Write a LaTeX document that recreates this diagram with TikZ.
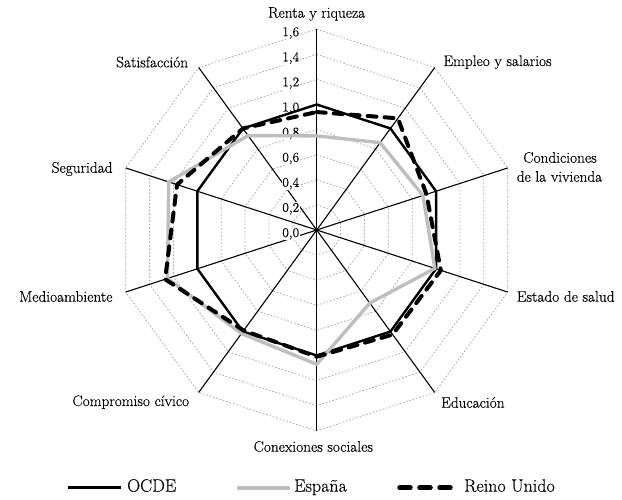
\documentclass[tikz,border=0pt]{standalone}
\usepackage{fontspec}
\setmainfont{Latin Modern Roman}[FakeBold=0.3]
\definecolor{gridgray}{RGB}{170,170,170}
\definecolor{esgray}{RGB}{190,190,190}
\begin{document}
\begin{tikzpicture}[x=1pt,y=1pt,
  lbl/.style={inner sep=0pt, font=\fontsize{15.3}{18}\selectfont},
  tick/.style={inner sep=0.6pt, fill=white, anchor=base east, font=\fontsize{13.5}{16}\selectfont},
  gridline/.style={draw=gridgray, line width=0.8pt, dash pattern=on 1.6pt off 1.9pt},
  axisline/.style={draw=black, line width=1.1pt},
  ocde/.style={draw=black, line width=2.4pt, line join=miter},
  espana/.style={draw=esgray, line width=3.4pt, line join=miter},
  reino/.style={draw=black, line width=4pt, dash pattern=on 9pt off 8pt, line cap=round, line join=round},
  legtext/.style={inner sep=0pt, anchor=base west, font=\fontsize{18}{20}\selectfont}]
\useasboundingbox (0,0) rectangle (622,499);
\begin{scope}[shift={(316.7,269)}, x=125.5pt, y=125.5pt]
  \coordinate (c) at (0,0);
  \foreach \r in {0.2,0.4,0.6,0.8,1.0,1.2,1.4,1.6}
    \draw[gridline] (90:\r) -- (54:\r) -- (18:\r) -- (-18:\r) -- (-54:\r) -- (-90:\r) -- (-126:\r) -- (-162:\r) -- (-198:\r) -- (-234:\r) -- cycle;
  \foreach \a [count=\i] in {90,54,18,-18,-54,-90,-126,-162,-198,-234} {
    \coordinate (e\i) at (\a:1.6);
    \draw[axisline] (c) -- (e\i);
  }
\end{scope}
% tick labels
\foreach \v/\t [count=\i] in {0/{0,0},0.2/{0,2},0.4/{0,4},0.6/{0,6},0.8/{0,8},1.0/{1,0},1.2/{1,2},1.4/{1,4},1.6/{1,6}}
  \node[tick] (t\i) at (300,{269+125.5*\v-7}) {\t};
\begin{scope}[shift={(316.7,269)}, x=125.5pt, y=125.5pt]
  \draw[ocde] (90:1) -- (54:1) -- (18:1) -- (-18:1) -- (-54:1) -- (-90:1) -- (-126:1) -- (-162:1) -- (-198:1) -- (-234:1) -- cycle;
  \draw[espana] (90:0.75) -- (54:0.86) -- (18:0.89) -- (-18:0.99) -- (-54:0.72) -- (-90:1.07) -- (-126:1.02) -- (-162:1.25) -- (-198:1.24) -- (-234:0.93) -- cycle;
  \draw[reino] (90:0.94) -- (54:1.10) -- (18:0.92) -- (-18:1.04) -- (-54:1.03) -- (-90:1.01) -- (-126:0.99) -- (-162:1.27) -- (-198:1.17) -- (-234:1.00) -- cycle;
\end{scope}
% axis labels
\node[lbl, anchor=base] (renta) at (316.7,481.3) {Renta y riqueza};
\node[lbl, anchor=base west] (empleo) at (443.3,433) {Empleo y salarios};
\node[lbl, anchor=base] (cond1) at (560,336.3) {Condiciones};
\node[lbl, anchor=base] (cond2) at (559.5,317.3) {de la vivienda};
\node[lbl, anchor=base west] (salud) at (516.7,197.3) {Estado de salud};
\node[lbl, anchor=base west] (educ) at (441,91.3) {Educación};
\node[lbl, anchor=base] (conex) at (313.3,47.3) {Conexiones sociales};
\node[lbl, anchor=base east] (compr) at (189.3,93) {Compromiso cívico};
\node[lbl, anchor=base east] (medio) at (112.7,197.3) {Medioambiente};
\node[lbl, anchor=base east] (segur) at (112.7,326.3) {Seguridad};
\node[lbl, anchor=base east] (satis) at (188.3,431.7) {Satisfacción};
% legend
\coordinate (l1a) at (68,11.3);  \coordinate (l1b) at (121,11.3);
\coordinate (l2a) at (237,11.3); \coordinate (l2b) at (290,11.3);
\coordinate (l3a) at (399.5,11.3); \coordinate (l3b) at (450.5,11.3);
\draw[black, line width=3pt] (l1a) -- (l1b);
\draw[esgray, line width=4pt] (l2a) -- (l2b);
\draw[black, line width=4.5pt, line cap=round, dash pattern=on 11pt off 9pt] (l3a) -- (l3b);
\node[legtext] (lo) at (127,7.3) {OCDE};
\node[legtext] (le) at (294,7.3) {España};
\node[legtext] (lr) at (464,7.3) {Reino Unido};
\end{tikzpicture}
\end{document}
